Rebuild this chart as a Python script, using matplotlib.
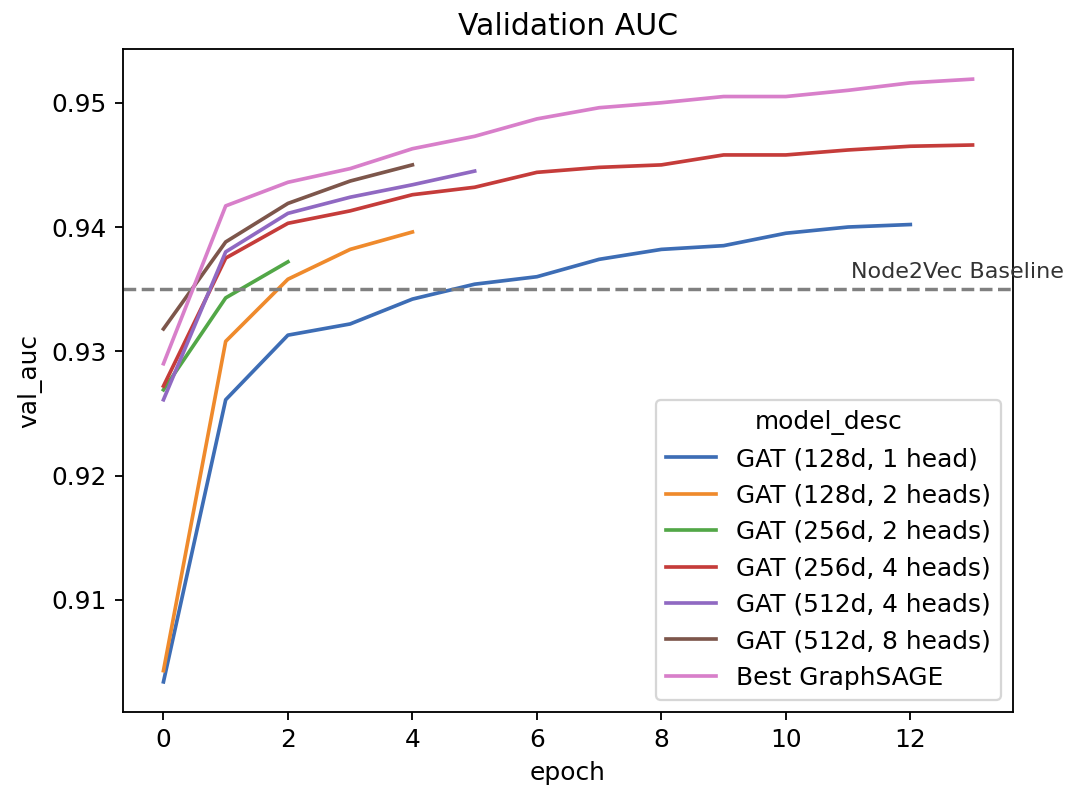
import numpy as np
import matplotlib
matplotlib.use("Agg")
import matplotlib.pyplot as plt

# validation AUC per epoch
gat_128_1 = [0.9034, 0.9261, 0.9313, 0.9322, 0.9342, 0.9354, 0.9360, 0.9374,
             0.9382, 0.9385, 0.9395, 0.9400, 0.9402]
gat_128_2 = [0.9043, 0.9308, 0.9358, 0.9382, 0.9396]
gat_256_2 = [0.9269, 0.9343, 0.9372]
gat_256_4 = [0.9272, 0.9375, 0.9403, 0.9413, 0.9426, 0.9432, 0.9444, 0.9448,
             0.9450, 0.9458, 0.9458, 0.9462, 0.9465, 0.9466]
gat_512_4 = [0.9261, 0.9380, 0.9411, 0.9424, 0.9434, 0.9445]
gat_512_8 = [0.9318, 0.9388, 0.9419, 0.9437, 0.9450]
best_sage = [0.9290, 0.9417, 0.9436, 0.9447, 0.9463, 0.9473, 0.9487, 0.9496,
             0.9500, 0.9505, 0.9505, 0.9510, 0.9516, 0.9519]

model_desc = [
    "GAT (128d, 1 head)",
    "GAT (128d, 2 heads)",
    "GAT (256d, 2 heads)",
    "GAT (256d, 4 heads)",
    "GAT (512d, 4 heads)",
    "GAT (512d, 8 heads)",
    "Best GraphSAGE",
]
series = [gat_128_1, gat_128_2, gat_256_2, gat_256_4, gat_512_4, gat_512_8, best_sage]
colors = ["#3d6db5", "#ef8a2c", "#52a747", "#c53c3a", "#9069c2", "#7d564b", "#d87fca"]

node2vec_baseline = 0.935

plt.rcParams["font.size"] = 10.85

DPI = 165
fig = plt.figure(figsize=(1068 / DPI, 788 / DPI), dpi=DPI)
ax = fig.add_axes([123 / 1068, 76 / 788, 890 / 1068, 663 / 788])

for name, vals, c in zip(model_desc, series, colors):
    ax.plot(np.arange(len(vals)), vals, color=c, label=name, lw=1.6)

ax.axhline(node2vec_baseline, color="gray", linestyle="--")
ax.text(11.05, node2vec_baseline + 0.0006, "Node2Vec Baseline", fontsize=9.7,
        va="bottom", ha="left", color="#333333")

ax.set_xlabel("epoch")
ax.set_ylabel("val_auc")
ax.set_title("Validation AUC")
ax.set_xticks([0, 2, 4, 6, 8, 10, 12])
ax.set_yticks([0.91, 0.92, 0.93, 0.94, 0.95])
ax.legend(title="model_desc", loc="lower right")

fig.savefig("out.png", dpi=DPI)
